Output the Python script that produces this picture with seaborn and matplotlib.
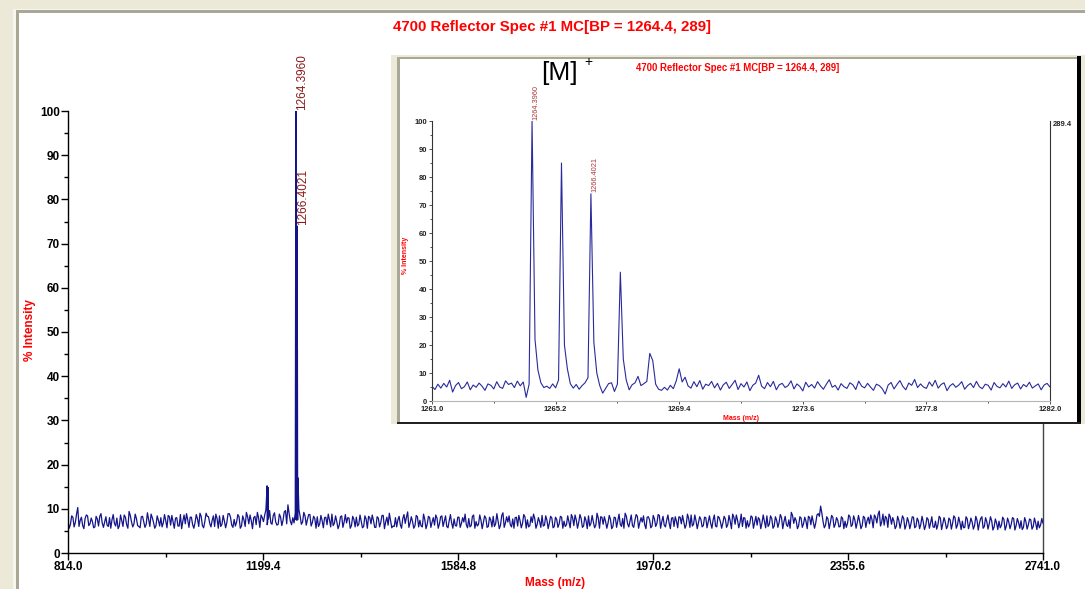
import numpy as np
import pandas as pd
import matplotlib
matplotlib.use("Agg")
import matplotlib.pyplot as plt
import seaborn as sns
from matplotlib.patches import Rectangle
from matplotlib.ticker import MultipleLocator, FixedLocator

# ---------------- data ----------------
title_text = "4700 Reflector Spec #1 MC[BP = 1264.4, 289]"
main_xlim = (814.0, 2741.0)
main_xticks = [814.0, 1199.4, 1584.8, 1970.2, 2355.6, 2741.0]
main_yticks = [0, 10, 20, 30, 40, 50, 60, 70, 80, 90, 100]

# baseline noise of the full spectrum: samples on an even grid across the m/z range
main_noise = [
    7.2, 6.5, 8.1, 6.9, 10.3, 7.4, 6.2, 7.8, 8.4, 6.6, 7.1, 5.9, 7.7, 8.3, 6.8, 7.0, 6.3, 8.0, 7.5, 6.7,
    7.9, 6.1, 7.3, 8.6, 6.4, 9.4, 7.0, 6.6, 7.8, 6.0, 8.2, 7.1, 6.5, 7.6, 8.8, 6.9, 6.2, 7.4, 8.0, 6.8,
    7.3, 8.5, 6.3, 7.0, 7.9, 6.1, 8.7, 7.2, 6.6, 7.5, 8.1, 6.4, 6.9, 7.7, 9.0, 6.2, 7.1, 8.3, 6.7, 7.4,
    6.0, 7.8, 8.4, 6.5, 7.2, 6.9, 8.9, 6.3, 7.6, 7.0, 8.2, 6.1, 7.5, 9.2, 6.6, 7.3, 8.0, 6.4, 7.9, 8.6,
    7.1, 9.8, 7.7, 6.8, 8.5, 7.0, 6.5, 8.1, 7.4, 9.6, 10.9, 7.2, 8.0, 9.1, 10.2, 8.3, 7.0, 8.4, 7.6, 8.7,
    6.9, 7.8, 8.2, 6.6, 7.3, 8.0, 6.4, 7.5, 8.8, 6.7, 7.1, 6.3, 8.4, 7.0, 6.8, 7.9, 6.2, 7.6, 8.1, 6.5,
    7.2, 6.0, 7.7, 8.3, 6.6, 7.4, 5.8, 7.9, 6.9, 8.5, 7.0, 6.3, 7.3, 6.1, 8.0, 7.5, 6.4, 7.8, 6.7, 9.3,
    6.8, 7.1, 6.2, 8.2, 7.4, 5.9, 7.6, 6.5, 8.0, 7.0, 6.3, 7.9, 6.6, 8.4, 7.2, 6.0, 7.3, 6.8, 7.7, 6.1,
    8.1, 6.7, 7.0, 6.4, 7.8, 6.2, 8.6, 7.1, 6.5, 7.4, 6.9, 7.9, 6.0, 7.5, 8.3, 6.6, 7.2, 6.3, 9.1, 6.8,
    7.0, 6.4, 7.7, 8.0, 6.1, 7.3, 6.7, 8.2, 7.5, 6.2, 6.9, 7.8, 6.5, 7.1, 8.5, 6.3, 7.4, 6.8, 7.9, 6.0,
    7.6, 6.6, 8.1, 7.2, 6.4, 7.0, 8.7, 6.2, 7.5, 6.9, 7.8, 6.1, 7.3, 8.4, 6.7, 7.0, 6.3, 7.9, 8.2, 6.5,
    7.1, 6.8, 7.6, 6.0, 8.0, 7.3, 6.5, 7.8, 9.0, 6.6, 7.2, 6.2, 7.4, 8.3, 6.9, 7.0, 6.4, 8.1, 7.5, 6.1,
    7.7, 6.7, 8.5, 7.1, 6.3, 7.4, 6.8, 7.9, 6.0, 7.2, 8.2, 6.6, 7.0, 6.4, 7.8, 8.6, 6.5, 7.3, 6.9, 7.6,
    6.2, 8.0, 7.1, 6.7, 7.5, 6.1, 8.3, 7.0, 6.8, 7.7, 6.4, 7.2, 8.8, 6.5, 7.4, 6.9, 6.0, 7.9, 7.3, 6.6,
    8.1, 7.0, 6.3, 7.6, 6.8, 7.2, 8.4, 6.5, 7.8, 6.1, 7.4, 6.9, 8.0, 7.1, 6.4, 7.5, 9.2, 6.7, 7.3, 6.2,
    7.9, 6.6, 7.2, 8.3, 6.4, 7.0, 6.8, 8.9, 10.6, 7.1, 6.3, 7.7, 6.9, 8.1, 6.5, 7.4, 6.0, 7.8, 7.2, 6.7,
    8.2, 6.4, 7.5, 6.9, 7.1, 6.2, 8.0, 7.3, 6.6, 7.6, 8.6, 6.8, 9.5, 7.0, 6.3, 7.9, 8.8, 6.5, 7.2, 6.1,
    7.4, 6.9, 7.8, 6.3, 7.1, 6.7, 8.1, 6.0, 7.3, 6.5, 7.0, 6.2, 7.6, 6.8, 5.9, 7.2, 6.4, 7.9, 6.6, 7.0,
    6.1, 7.5, 6.7, 8.0, 6.3, 6.9, 7.2, 5.8, 7.7, 6.5, 7.0, 6.2, 7.4, 6.8, 8.2, 6.0, 7.1, 6.6, 7.3, 5.9,
    6.8, 7.2, 6.3, 7.6, 6.1, 7.0, 6.5, 7.8, 6.2, 6.9, 7.3, 5.8, 7.1, 6.4, 7.5, 6.0, 6.8, 7.2, 6.3, 6.7,
]
# further noise samples, read half-way between the samples above
main_noise_mid = [
    5.6, 8.4, 5.9, 8.8, 6.0, 8.1, 5.5, 8.6, 6.2, 7.9, 5.7, 8.3, 6.1, 8.9, 5.8, 8.2, 6.0, 5.6, 8.7, 6.1,
    5.5, 8.6, 6.0, 8.1, 5.6, 8.5, 5.9, 8.8, 6.2, 5.7, 8.3, 5.8, 9.1, 6.0, 8.0, 5.6, 8.4, 6.1, 5.9, 8.7,
    5.7, 8.2, 8.5, 5.6, 8.0, 6.1, 5.5, 8.6, 8.9, 5.8, 8.1, 5.6, 8.7, 6.0, 8.3, 5.7, 9.0, 8.2, 5.9, 8.4,
    8.8, 5.6, 6.0, 8.5, 5.7, 8.9, 8.1, 5.8, 6.1, 8.7, 5.6, 8.4, 6.0, 8.2, 8.6, 5.5, 8.3, 9.2, 5.8, 8.0,
    8.6, 6.4, 9.6, 6.5, 9.1, 6.3, 8.8, 6.2, 9.3, 6.6, 8.9, 6.4, 6.8, 9.0, 9.8, 6.5, 9.2, 6.3, 8.7, 6.1,
    8.3, 5.6, 6.0, 8.5, 5.7, 8.1, 8.8, 5.9, 6.2, 8.4, 5.5, 8.2, 5.8, 8.7, 8.0, 5.6, 8.3, 5.9, 6.1, 8.6,
    5.7, 8.4, 5.6, 8.0, 8.6, 5.8, 8.2, 5.9, 8.5, 5.5, 8.1, 9.0, 5.7, 6.0, 5.9, 8.3, 5.6, 8.7, 8.1, 5.8,
    8.2, 5.6, 8.5, 5.9, 6.1, 8.8, 5.5, 8.3, 5.8, 8.0, 8.6, 5.6, 8.2, 6.0, 8.4, 5.7, 8.7, 5.6, 6.2, 8.1,
    5.8, 8.0, 8.8, 5.7, 5.9, 8.3, 5.6, 6.1, 8.6, 5.5, 8.4, 5.8, 8.1, 5.9, 6.0, 8.9, 5.5, 8.5, 5.8, 8.2,
    8.4, 5.9, 5.6, 8.1, 8.5, 5.7, 8.7, 5.6, 5.9, 8.2, 8.8, 5.6, 8.0, 5.8, 6.1, 8.4, 5.5, 8.3, 5.7, 8.1,
    5.8, 8.3, 5.6, 6.0, 8.4, 5.7, 8.0, 8.6, 5.6, 8.7, 5.8, 8.2, 5.5, 6.1, 8.5, 5.7, 9.0, 5.6, 8.1, 8.2,
    5.6, 8.5, 5.5, 8.1, 5.8, 8.8, 6.0, 5.6, 8.3, 5.9, 8.6, 5.8, 8.7, 5.6, 8.0, 8.4, 5.5, 8.2, 5.7, 8.5,
    6.0, 8.7, 5.6, 8.3, 5.9, 8.6, 5.5, 8.0, 8.2, 5.7, 8.1, 8.5, 5.6, 8.8, 5.8, 6.1, 8.6, 5.5, 8.2, 5.9,
    8.1, 5.7, 8.4, 5.6, 8.6, 5.9, 8.0, 5.6, 8.3, 5.8, 8.5, 5.5, 8.1, 8.6, 5.7, 8.8, 8.0, 5.6, 5.9, 8.4,
    5.6, 8.3, 8.0, 5.5, 8.6, 5.7, 6.0, 8.4, 5.6, 8.2, 5.8, 8.7, 5.5, 8.3, 6.0, 5.6, 8.5, 8.0, 5.5, 8.2,
    5.8, 8.1, 5.5, 8.0, 8.4, 5.6, 8.6, 8.3, 9.0, 5.7, 8.2, 5.5, 8.5, 5.8, 8.0, 5.9, 8.2, 5.5, 5.8, 8.6,
    6.0, 8.4, 5.6, 8.5, 5.5, 8.3, 5.8, 8.1, 8.6, 5.7, 8.1, 8.7, 6.1, 8.8, 8.3, 5.8, 8.2, 8.0, 5.5, 8.3,
    5.6, 8.4, 5.4, 8.0, 5.5, 8.2, 5.7, 7.9, 5.5, 8.3, 5.3, 8.0, 5.6, 8.2, 5.8, 5.4, 8.3, 5.3, 8.0, 5.5,
    7.9, 5.4, 8.4, 5.6, 8.1, 5.3, 5.7, 8.2, 5.5, 7.9, 5.4, 8.3, 5.2, 7.8, 5.6, 8.0, 5.4, 8.2, 5.2, 7.7,
    5.3, 5.7, 8.1, 5.2, 7.9, 5.5, 8.0, 5.2, 7.8, 5.6, 5.3, 8.0, 5.4, 7.7, 5.4, 7.9, 5.3, 5.7, 7.8,
]
# peaks (and the valleys between the isotope peaks) of the full spectrum
main_peak_mz = [1207.5, 1208.6, 1209.6, 1264.4, 1264.9, 1265.4, 1265.9, 1266.4, 1266.9, 1267.4, 1267.9, 1268.4]
main_peak_int = [15.2, 7.0, 14.8, 100.0, 7.5, 85.0, 7.5, 74.0, 7.5, 46.0, 7.5, 17.0]

# zoomed isotope cluster (inset), sampled every 0.1 m/z from 1261.0
inset_start = 1261.0
inset_step = 0.1
inset_int = [
    5.2, 4.1, 6.0, 4.6, 6.3, 5.0, 7.4, 3.2, 5.5, 6.6,
    4.4, 5.1, 6.8, 4.0, 5.7, 4.9, 6.4, 5.3, 3.8, 6.1,
    5.6, 4.3, 6.9, 5.0, 4.5, 7.2, 5.9, 6.4, 4.8, 7.1,
    5.4, 6.8, 1.3,
    6.0, 100.0, 22.0, 11.0, 6.5, 4.8,
    5.3, 4.5, 6.1, 4.7, 7.5,
    85.0, 20.0, 11.5, 6.2, 4.6, 5.9, 4.2, 5.5, 6.5, 8.3,
    74.0, 21.0, 10.0, 5.5, 2.8, 4.5, 6.2, 6.5, 3.4, 6.0,
    46.0, 15.0, 7.5, 4.0, 5.8, 6.5, 8.8, 5.5, 6.2, 7.0,
    17.0, 14.5, 6.0, 4.2, 3.8, 4.9, 3.9, 5.6, 4.4, 7.2,
    11.5, 6.8, 8.5, 5.4,
    4.6, 6.9, 5.1, 7.3, 4.2, 6.0, 5.5, 7.0, 4.7, 6.3, 3.9, 5.8,
    6.7, 4.5, 5.9, 7.4, 4.1, 6.2, 5.0, 6.8, 3.7, 5.6,
    6.4, 9.2, 5.3, 4.4, 6.6, 5.1, 7.0, 4.0, 5.8, 6.3,
    4.8, 5.5, 7.2, 4.3, 6.1, 5.2, 3.6, 6.7, 5.0, 5.9,
    4.6, 6.9, 5.4, 4.2, 6.0, 7.6, 4.9, 5.6, 3.9, 6.2,
    5.1, 4.5, 6.5, 5.8, 4.1, 7.1, 5.3, 4.7, 6.3, 5.0,
    3.8, 6.0, 5.5, 4.4, 2.5, 5.7, 6.6, 4.3, 5.9, 7.3,
    5.2, 4.0, 6.4, 5.6, 7.7, 4.8, 6.1, 5.0, 4.5, 6.8,
    5.3, 7.4, 4.6, 5.9, 6.5, 3.7, 5.4, 6.2, 4.9, 5.7,
    6.9, 4.2, 5.5, 6.3, 4.8, 7.0, 5.1, 4.4, 6.0, 5.6,
    3.9, 6.6, 5.2, 4.7, 6.2, 5.0, 7.1, 4.5, 5.8, 6.4,
    4.3, 5.9, 5.1, 6.7, 4.6, 5.4, 6.1, 4.0, 5.7, 6.3, 5.0,
]
inset_xlim = (1261.0, 1282.0)
inset_xticks = [1261.0, 1265.2, 1269.4, 1273.6, 1277.8, 1282.0]
inset_max_label = "289.4"

label_mz = [1264.3960, 1266.4021]
label_int = [100.0, 74.0]

# ---------------- style ----------------
sns.set_style("white")
plt.rcParams['font.family'] = ['Liberation Sans', 'DejaVu Sans']

W, H = 1085, 589
fig = plt.figure(figsize=(W / 100, H / 100), dpi=100)
fig.patch.set_facecolor('white')


def px_axes(x0, y0, x1, y1):
    return fig.add_axes([x0 / W, 1 - y1 / H, (x1 - x0) / W, (y1 - y0) / H])


def px_rect(x0, y0, x1, y1, color, z=1):
    r = Rectangle((x0 / W, 1 - y1 / H), (x1 - x0) / W, (y1 - y0) / H,
                  transform=fig.transFigure, facecolor=color, edgecolor='none', zorder=z)
    fig.add_artist(r)


BEIGE = '#ece9d8'
LIGHT = '#f6f5ee'
GRAY = '#a9a796'

# window frame
px_rect(0, 0, 13, H, BEIGE)
px_rect(13, 9, 16, H, LIGHT)
px_rect(0, 0, W, 9, BEIGE)
px_rect(13, 9, W, 10, LIGHT)
px_rect(16, 10, 19, H, GRAY)
px_rect(16, 10, W, 13, GRAY)

# ---------------- main spectrum ----------------
ax = px_axes(68, 111, 1043, 553)
main_mz = np.linspace(main_xlim[0], main_xlim[1], len(main_noise))
main_mz_mid = (main_mz[:-1] + main_mz[1:]) / 2
df_main = pd.DataFrame({
    'mz': np.concatenate([main_mz, main_mz_mid, main_peak_mz]),
    'intensity': np.concatenate([main_noise, main_noise_mid, main_peak_int]),
}).sort_values('mz')
sns.lineplot(data=df_main, x='mz', y='intensity', ax=ax, color='#14148a',
             linewidth=0.9, estimator=None, sort=True)

ax.set_xlim(*main_xlim)
ax.set_ylim(0, 100)
ax.set_xticks(main_xticks)
ax.set_xticklabels([f"{t:.1f}" for t in main_xticks])
ax.xaxis.set_minor_locator(FixedLocator([(a + b) / 2 for a, b in zip(main_xticks[:-1], main_xticks[1:])]))
ax.set_yticks(main_yticks)
ax.set_yticklabels([str(t) for t in main_yticks])
ax.yaxis.set_minor_locator(MultipleLocator(5))
ax.tick_params(which='both', bottom=True, left=True, direction='out', color='black', width=1)
ax.tick_params(which='major', length=5, labelsize=8.5, pad=1, labelcolor='black')
ax.tick_params(which='minor', length=3)
for lab in ax.get_xticklabels() + ax.get_yticklabels():
    lab.set_fontweight('bold')
ax.spines['top'].set_visible(False)
for s in ['left', 'bottom']:
    ax.spines[s].set_color('black')
    ax.spines[s].set_linewidth(1.0)
ax.spines['right'].set_color('#444444')
ax.spines['right'].set_linewidth(1.0)
ax.set_facecolor('white')

ax.set_xlabel("Mass (m/z)", color='red', fontweight='bold', fontsize=8.5)
ax.xaxis.set_label_coords(0.5, -0.055)
ax.set_ylabel("% Intensity", color='red', fontweight='bold', fontsize=8.5)
ax.yaxis.set_label_coords(-0.033, 0.505)

for mz, it in zip(label_mz, label_int):
    ax.annotate(f"{mz:.4f}", xy=(mz, it), xytext=(4.5, 1), textcoords='offset points',
                rotation=90, ha='center', va='bottom', fontsize=8.5, color='#8b1a1a')

fig.text(552 / W, 1 - 27 / H, title_text, color='red', fontweight='bold',
         fontsize=10.8, ha='center', va='center')

# ---------------- inset panel ----------------
px_rect(391, 55, W, 424, BEIGE, z=2)
px_rect(400, 59, 1077, 422, 'white', z=2)
px_rect(397, 57, 400, 422, GRAY, z=2)
px_rect(397, 57, 1077, 59, GRAY, z=2)
px_rect(1077, 56, 1081, 424, 'black', z=2)
px_rect(397, 422, 1081, 424, '#222222', z=2)

ins = px_axes(432, 121, 1050, 401)
ins.set_zorder(5)
ins.patch.set_alpha(0)
inset_mz = inset_start + inset_step * np.arange(len(inset_int))
df_ins = pd.DataFrame({'mz': inset_mz, 'intensity': inset_int})
sns.lineplot(data=df_ins, x='mz', y='intensity', ax=ins, color='#2a2a9c',
             linewidth=0.8, estimator=None, sort=True)
ins.set_xlim(*inset_xlim)
ins.set_ylim(0, 100)
ins.set_xticks(inset_xticks)
ins.set_xticklabels([f"{t:.1f}" for t in inset_xticks])
ins.xaxis.set_minor_locator(FixedLocator([(a + b) / 2 for a, b in zip(inset_xticks[:-1], inset_xticks[1:])]))
ins.set_yticks(main_yticks)
ins.set_yticklabels([str(t) for t in main_yticks])
ins.yaxis.set_minor_locator(MultipleLocator(5))
ins.tick_params(which='both', bottom=True, left=True, direction='out', color='#333333', width=0.6)
ins.tick_params(which='major', length=2.5, labelsize=5.5, pad=1, labelcolor='#222222')
ins.tick_params(which='minor', length=1.5)
for lab in ins.get_xticklabels() + ins.get_yticklabels():
    lab.set_fontweight('bold')
ins.spines['top'].set_visible(False)
ins.spines['left'].set_color('#333333')
ins.spines['left'].set_linewidth(0.8)
ins.spines['right'].set_color('#333333')
ins.spines['right'].set_linewidth(0.8)
ins.spines['bottom'].set_color('#b5b5b5')
ins.spines['bottom'].set_linewidth(0.8)
ins.set_xlabel("Mass (m/z)", color='red', fontweight='bold', fontsize=5)
ins.xaxis.set_label_coords(0.5, -0.05)
ins.set_ylabel("% Intensity", color='red', fontweight='bold', fontsize=5)
ins.yaxis.set_label_coords(-0.038, 0.52)
ins.text(1.005, 1.0, inset_max_label, transform=ins.transAxes, ha='left', va='top',
         fontsize=5.5, fontweight='bold', color='#222222')

for mz, it in zip(label_mz, label_int):
    ins.annotate(f"{mz:.4f}", xy=(mz, it), xytext=(3, 1), textcoords='offset points',
                 rotation=90, ha='center', va='bottom', fontsize=5.3, color='#a83838')

fig.text(738 / W, 1 - 68 / H, title_text, color='red', fontweight='bold',
         fontsize=6.9, ha='center', va='center', zorder=6)
fig.text(541 / W, 1 - 73 / H, "[M]", color='black', fontsize=19, ha='left', va='center', zorder=6)
fig.text(584 / W, 1 - 62 / H, "+", color='black', fontsize=10, ha='left', va='center', zorder=6)

fig.savefig("out.png", dpi=100, facecolor=fig.get_facecolor())
